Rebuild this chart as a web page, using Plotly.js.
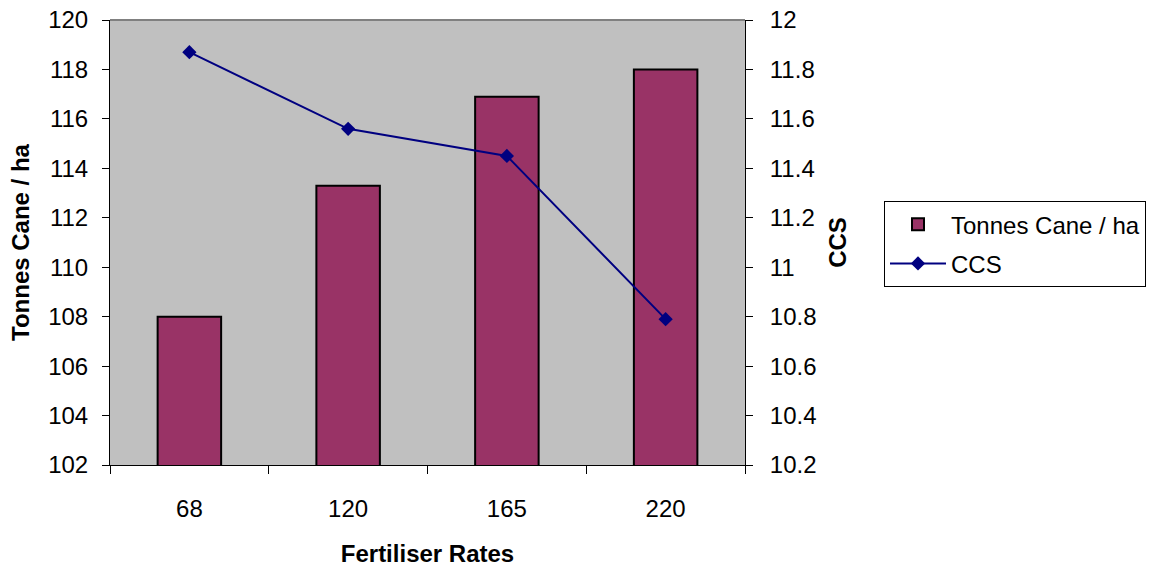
<!DOCTYPE html>
<html>
<head>
<meta charset="utf-8">
<script src="https://cdn.plot.ly/plotly-3.0.1.min.js"></script>
<style>
  html, body { margin: 0; padding: 0; background: #fff; }
  #chart { width: 1158px; height: 567px; }
</style>
</head>
<body>
<div id="chart"></div>
<script>
// Fertiliser rate trial: cane yield (bars, left axis) and CCS (line, right axis)
const rates = ["68", "120", "165", "220"];
const tonnesCane = [108, 113.3, 116.9, 118];
const ccs = [11.87, 11.56, 11.45, 10.79];

const FAMILY = "Liberation Sans, Arial, sans-serif";
const font = { family: FAMILY, size: 24, color: "#000" };
const boldFont = { family: FAMILY, size: 24, color: "#000", weight: "bold" };

const traces = [
  {
    type: "bar",
    name: "Tonnes Cane / ha",
    x: rates,
    y: tonnesCane,
    width: 0.4,
    marker: { color: "#993366", line: { color: "#000", width: 2 } },
    yaxis: "y",
    legendgroup: "a"
  },
  {
    type: "scatter",
    mode: "lines+markers",
    name: "CCS",
    x: rates,
    y: ccs,
    line: { color: "#000080", width: 2 },
    marker: { symbol: "diamond", size: 11, color: "#000080" },
    yaxis: "y2",
    legendgroup: "b"
  }
];

// Shared settings for the tick-only companion axes (inner half of crossing ticks)
const innerTicks = { ticks: "inside", ticklen: 7, tickcolor: "#000", showticklabels: false,
                     showline: false, showgrid: false, zeroline: false, fixedrange: true };

const layout = {
  width: 1158,
  height: 567,
  margin: { l: 110, r: 413, t: 20, b: 102 },
  paper_bgcolor: "#fff",
  plot_bgcolor: "#C0C0C0",
  font: font,
  showlegend: true,
  xaxis: {
    type: "category",
    tickson: "boundaries",
    ticks: "outside",
    ticklen: 8,
    tickcolor: "#000",
    ticklabelstandoff: 22,
    showline: true,
    linecolor: "#000",
    linewidth: 1,
    showgrid: false,
    zeroline: false,
    tickfont: font,
    title: { text: "Fertiliser Rates", font: boldFont, standoff: 25 }
  },
  xaxis2: Object.assign({ overlaying: "x", anchor: "y", range: [-0.5, 3.5],
                          tickvals: [0.5, 1.5, 2.5], ticklen: 8 }, innerTicks),
  yaxis: {
    range: [102, 120],
    dtick: 2,
    ticks: "outside",
    ticklen: 7,
    tickcolor: "#000",
    ticklabelstandoff: 9,
    showline: true,
    linecolor: "#000",
    showgrid: false,
    zeroline: false,
    tickfont: font,
    title: { text: "Tonnes Cane / ha", font: boldFont, standoff: 11 }
  },
  yaxis2: {
    overlaying: "y",
    side: "right",
    range: [10.2, 12],
    dtick: 0.2,
    ticks: "outside",
    ticklen: 7,
    tickcolor: "#000",
    ticklabelstandoff: 12,
    showline: true,
    linecolor: "#000",
    showgrid: false,
    zeroline: false,
    tickfont: font,
    tickformat: "~r",
    title: { text: "CCS", font: boldFont, standoff: 13 }
  },
  yaxis3: Object.assign({ overlaying: "y", anchor: "x", side: "left", range: [102, 120], dtick: 2 }, innerTicks),
  yaxis4: Object.assign({ overlaying: "y", anchor: "x", side: "right", range: [10.2, 12], dtick: 0.2 }, innerTicks),
  shapes: [
    { type: "line", xref: "paper", yref: "paper", x0: 0, x1: 1, y0: 1, y1: 1,
      line: { color: "#808080", width: 2 } }
  ],
  legend: {
    x: 1.2189,
    y: 0.593,
    xanchor: "left",
    yanchor: "top",
    bgcolor: "#fff",
    bordercolor: "#000",
    borderwidth: 1,
    font: font,
    traceorder: "grouped",
    tracegroupgap: 5,
    itemwidth: 56
  }
};

Plotly.newPlot("chart", traces, layout, { displayModeBar: false, staticPlot: true });
</script>
</body>
</html>
